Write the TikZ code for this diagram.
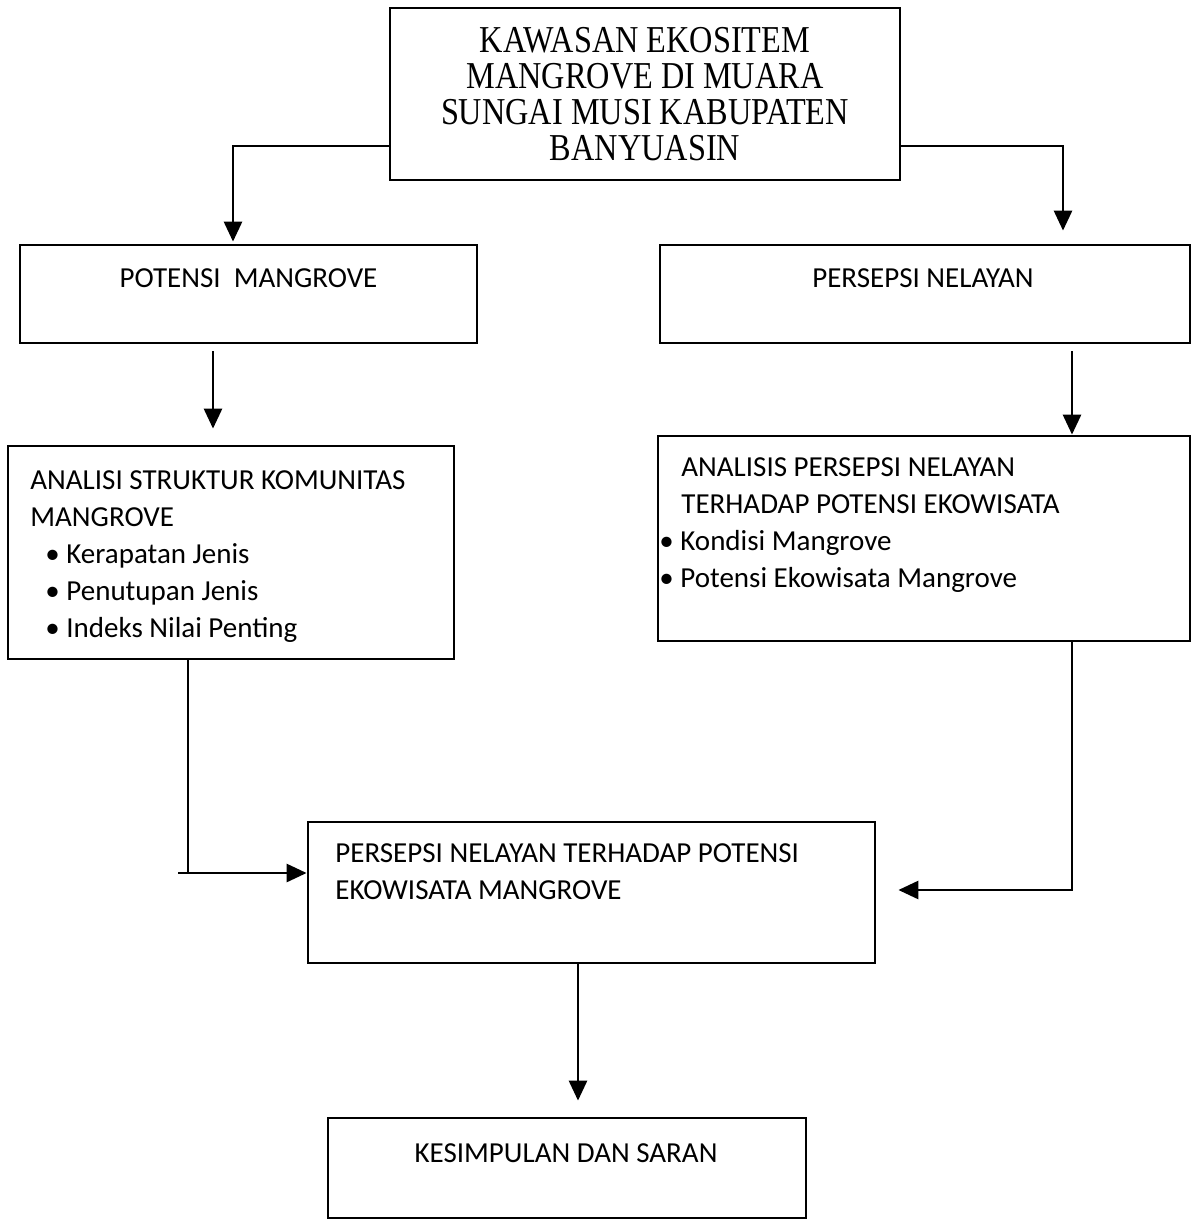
\documentclass[tikz,border=0pt]{standalone}
\usepackage{fontspec}
\usetikzlibrary{arrows.meta}
\newfontfamily\boxfont{Carlito}
\newfontfamily\headfont[FakeStretch=0.85]{Liberation Serif}
\tikzset{
  boxx/.style={
    draw, rectangle, line width=1.4pt, inner sep=0pt
  },
  txt/.style={
    inner sep=0pt, align=left, font=\boxfont\fontsize{14.5}{18.5}\selectfont
  },
  arr/.style={
    -{Triangle[width=9pt,length=10pt]}, line width=1.4pt
  },
  ln/.style={line width=1.4pt}
}

\begin{document}
\begin{tikzpicture}[x=0.5pt, y=-0.5pt]
  \useasboundingbox (0,0) rectangle (1192,1220);

  % boxes
  \node[boxx, minimum width=255pt, minimum height=86pt, align=center,
    font=\headfont\fontsize{19}{18}\selectfont] (kaw) at (645,94)
    {KAWASAN EKOSITEM\\MANGROVE DI MUARA\\SUNGAI MUSI KABUPATEN\\BANYUASIN};
  \node[boxx, minimum width=228.5pt, minimum height=49pt] (pot) at (248.5,294) {};
  \node[boxx, minimum width=265pt, minimum height=49pt] (per) at (925,294) {};
  \node[boxx, minimum width=223pt, minimum height=106.5pt] (anl) at (231,552.5) {};
  \node[boxx, minimum width=266pt, minimum height=102.5pt] (anp) at (924,538.5) {};
  \node[boxx, minimum width=283.5pt, minimum height=70.5pt] (mid) at (591.5,892.5) {};
  \node[boxx, minimum width=239pt, minimum height=50pt] (kes) at (567,1168) {};

  % texts
  \node[txt, anchor=north] (pottxt) at (248.5,268) {POTENSI\ \ MANGROVE};
  \node[txt, anchor=north] (pertxt) at (923,268) {PERSEPSI NELAYAN};
  \node[txt, anchor=north west] (anltxt) at (30,470)
    {ANALISI STRUKTUR KOMUNITAS\\MANGROVE\\
     \hspace*{7.5pt}\textbullet\ Kerapatan Jenis\\
     \hspace*{7.5pt}\textbullet\ Penutupan Jenis\\
     \hspace*{7.5pt}\textbullet\ Indeks Nilai Penting};
  \node[txt, anchor=north west] (anptxt) at (659,457)
    {\hspace*{11pt}ANALISIS PERSEPSI NELAYAN\\
     \hspace*{11pt}TERHADAP POTENSI EKOWISATA\\
     \textbullet\ Kondisi Mangrove\\
     \textbullet\ Potensi Ekowisata Mangrove};
  \node[txt, anchor=north west] (midtxt) at (335,843)
    {PERSEPSI NELAYAN TERHADAP POTENSI\\EKOWISATA MANGROVE};
  \node[txt, anchor=north] (kestxt) at (566,1143) {KESIMPULAN DAN SARAN};

  % connectors
  \coordinate (tl) at (233,146);
  \coordinate (tr) at (1063,146);
  \coordinate (colA) at (213,0);
  \coordinate (colB) at (1072,0);
  \coordinate (jl) at (188,873);
  \coordinate (jr) at (1072,890);
  \coordinate (colC) at (578,0);

  \draw[arr, shorten >=1pt] (kaw.west |- tl) -- (tl) -- (pot.north -| tl);
  \draw[arr, shorten >=6.5pt] (kaw.east |- tr) -- (tr) -- (per.north -| tr);
  \draw[arr, shorten <=3.5pt, shorten >=8pt] (pot.south -| colA) -- (anl.north -| colA);
  \draw[arr, shorten <=3.5pt] (per.south -| colB) -- (anp.north -| colB);
  \draw[ln] (anl.south -| jl) -- (jl);
  \draw[arr] ([xshift=-5pt]jl) -- (mid.west |- jl);
  \draw[arr, shorten >=11pt] (anp.south -| jr) -- (jr) -- (mid.east |- jr);
  \draw[arr, shorten >=8pt] (mid.south -| colC) -- (kes.north -| colC);
\end{tikzpicture}
\end{document}
